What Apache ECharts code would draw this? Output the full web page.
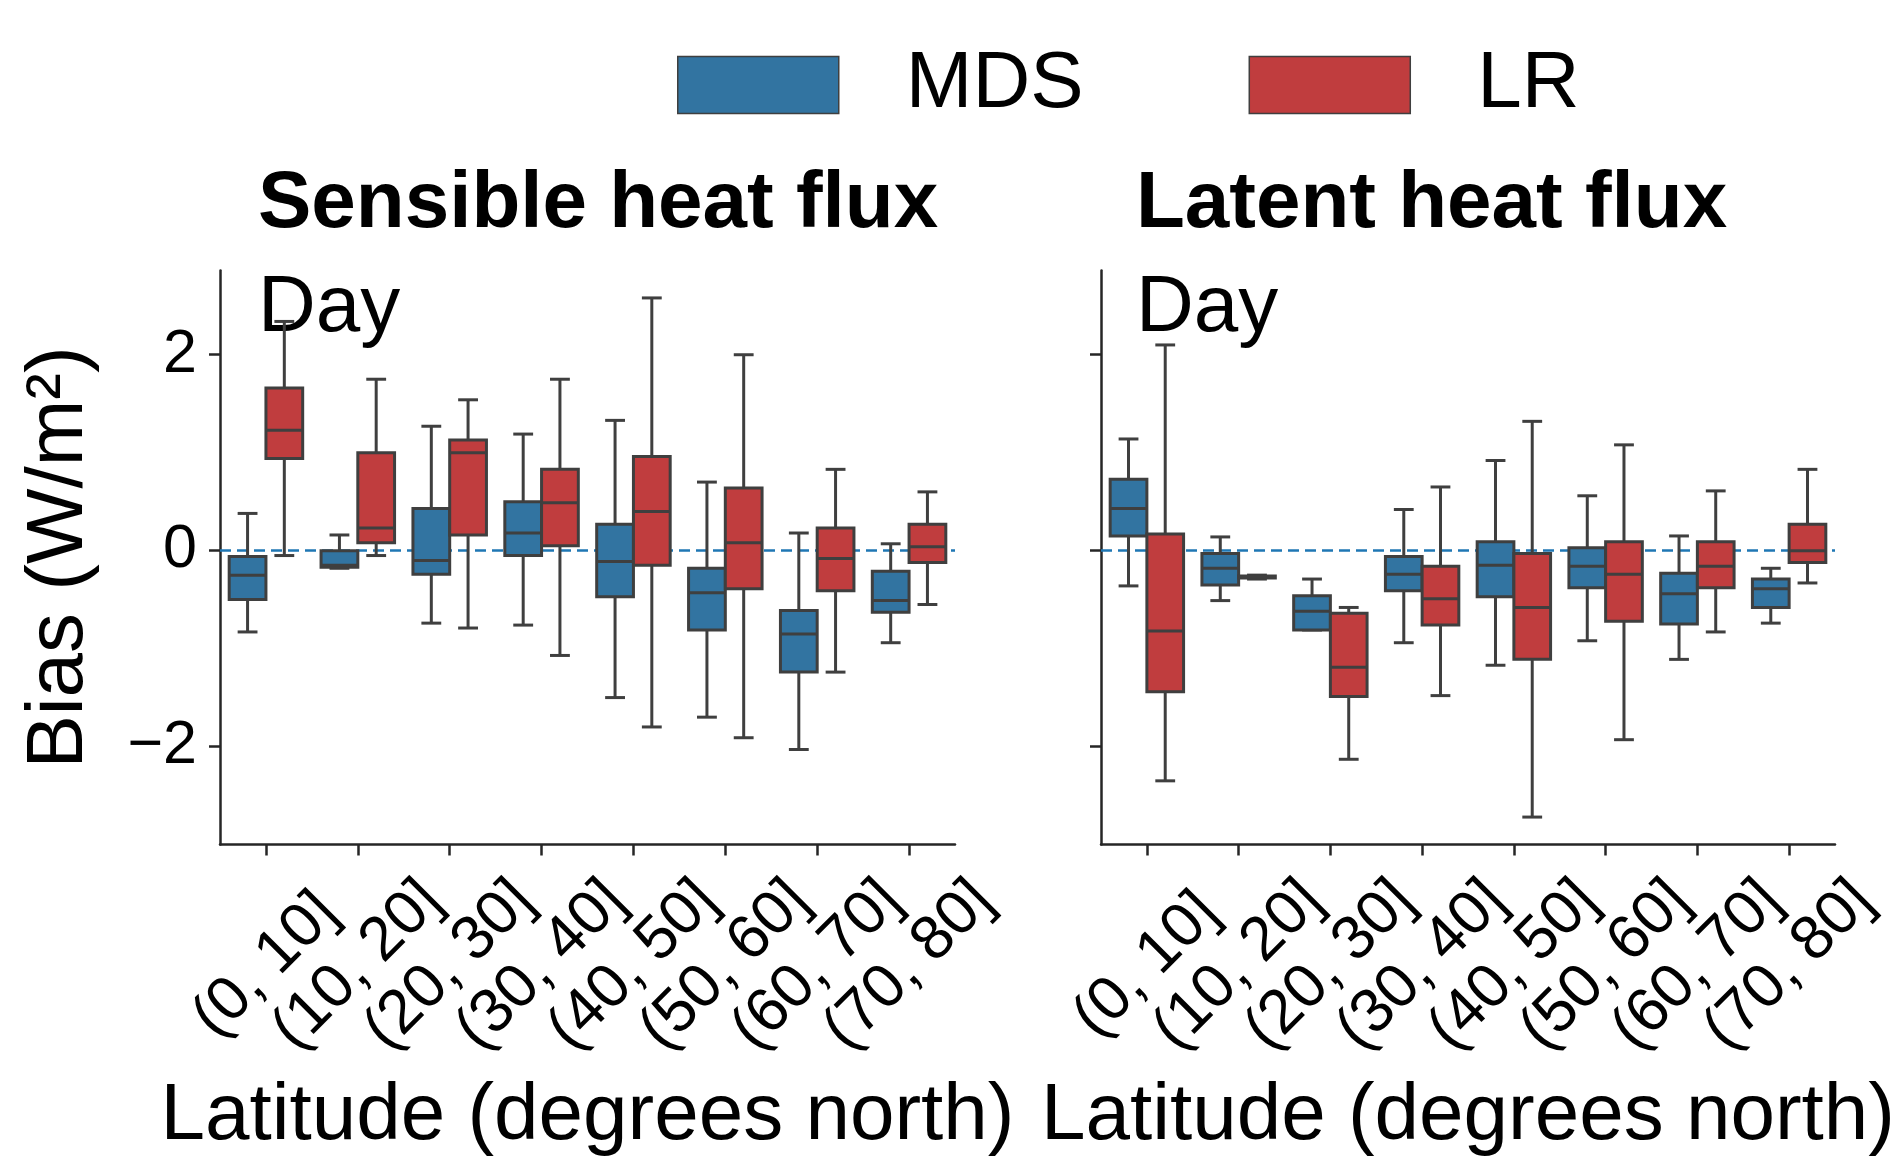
<!DOCTYPE html>
<html>
<head>
<meta charset="utf-8">
<script src="https://cdn.jsdelivr.net/npm/echarts@6/dist/echarts.min.js"></script>
<style>
html,body{margin:0;padding:0;background:#fff;}
#chart{width:1902px;height:1161px;}
</style>
</head>
<body>
<div id="chart"></div>
<script>
// ---- data (each box: [lower whisker, Q1, median, Q3, upper whisker]) ----
const latCats = ['(0, 10]', '(10, 20]', '(20, 30]', '(30, 40]', '(40, 50]', '(50, 60]', '(60, 70]', '(70, 80]'];
const panelTitles = ['Sensible heat flux', 'Latent heat flux'];
const seriesNames = ['MDS', 'LR'];
const yTickValues = [-2, 0, 2];
const yTickLabels = ['\u22122', '0', '2'];

const sensibleMDS = [
  [-0.83, -0.50, -0.25, -0.06, 0.38],
  [-0.18, -0.17, -0.15, 0.00, 0.16],
  [-0.74, -0.24, -0.10, 0.43, 1.27],
  [-0.76, -0.05, 0.18, 0.50, 1.19],
  [-1.50, -0.47, -0.11, 0.27, 1.33],
  [-1.70, -0.81, -0.43, -0.18, 0.70],
  [-2.03, -1.24, -0.85, -0.61, 0.18],
  [-0.94, -0.63, -0.51, -0.21, 0.07]
];
const sensibleLR = [
  [-0.05, 0.94, 1.23, 1.66, 2.34],
  [-0.05, 0.08, 0.23, 1.00, 1.75],
  [-0.79, 0.16, 1.00, 1.13, 1.54],
  [-1.07, 0.05, 0.49, 0.83, 1.75],
  [-1.80, -0.15, 0.40, 0.96, 2.58],
  [-1.91, -0.39, 0.08, 0.64, 2.00],
  [-1.24, -0.41, -0.08, 0.23, 0.83],
  [-0.55, -0.12, 0.04, 0.27, 0.60]
];
const latentMDS = [
  [-0.36, 0.15, 0.43, 0.73, 1.14],
  [-0.51, -0.35, -0.18, -0.03, 0.14],
  [-0.81, -0.81, -0.62, -0.46, -0.29],
  [-0.94, -0.41, -0.24, -0.06, 0.42],
  [-1.17, -0.47, -0.15, 0.09, 0.92],
  [-0.92, -0.38, -0.16, 0.03, 0.56],
  [-1.11, -0.75, -0.44, -0.23, 0.15],
  [-0.74, -0.58, -0.39, -0.29, -0.18]
];
const latentLR = [
  [-2.35, -1.44, -0.82, 0.17, 2.10],
  [-0.29, -0.28, -0.27, -0.26, -0.25],
  [-2.13, -1.49, -1.19, -0.64, -0.58],
  [-1.48, -0.76, -0.49, -0.16, 0.65],
  [-2.72, -1.11, -0.58, -0.03, 1.32],
  [-1.93, -0.72, -0.24, 0.09, 1.08],
  [-0.83, -0.38, -0.16, 0.09, 0.61],
  [-0.33, -0.12, 0.00, 0.27, 0.83]
];

// ---- styling ----
const FONT = "'Liberation Sans', Arial, Helvetica, sans-serif";
const colors = { MDS: '#3274a1', LR: '#c03d3e' };
const edge = '#3f3f3f';
const axisColor = '#262626';
const LW = 3;

const grids = [
  { left: 220, top: 270.5, width: 735, height: 574 },
  { left: 1101, top: 270.5, width: 734, height: 574 }
];

function makeRender(sign, fill) {
  return function (params, api) {
    const idx = api.value(0);
    const band = api.size([1, 0])[0];
    const bw = band * 0.4;
    const cx = api.coord([idx, 0])[0] + sign * bw / 2;
    const yLow = api.coord([idx, api.value(1)])[1];
    const yQ1 = api.coord([idx, api.value(2)])[1];
    const yMed = api.coord([idx, api.value(3)])[1];
    const yQ3 = api.coord([idx, api.value(4)])[1];
    const yHigh = api.coord([idx, api.value(5)])[1];
    const cap = bw * 0.27;
    const ls = { stroke: edge, lineWidth: LW, fill: null };
    return {
      type: 'group',
      children: [
        { type: 'line', shape: { x1: cx, y1: yQ3, x2: cx, y2: yHigh }, style: ls },
        { type: 'line', shape: { x1: cx, y1: yQ1, x2: cx, y2: yLow }, style: ls },
        { type: 'line', shape: { x1: cx - cap, y1: yHigh, x2: cx + cap, y2: yHigh }, style: ls },
        { type: 'line', shape: { x1: cx - cap, y1: yLow, x2: cx + cap, y2: yLow }, style: ls },
        { type: 'rect', shape: { x: cx - bw / 2, y: yQ3, width: bw, height: yQ1 - yQ3 },
          style: { fill: fill, stroke: edge, lineWidth: LW } },
        { type: 'line', shape: { x1: cx - bw / 2, y1: yMed, x2: cx + bw / 2, y2: yMed }, style: ls }
      ]
    };
  };
}

function toData(arr) { return arr.map((b, i) => [i].concat(b)); }

const panelData = [
  [sensibleMDS, sensibleLR],
  [latentMDS, latentLR]
];

const xAxes = [], yAxes = [], series = [];
panelData.forEach((pd, g) => {
  xAxes.push({
    type: 'category', gridIndex: g, data: latCats, boundaryGap: true,
    name: 'Latitude (degrees north)', nameLocation: 'middle', nameGap: 232,
    nameTextStyle: { fontSize: 80, fontFamily: FONT, color: '#000' },
    axisLine: { show: true, onZero: false, lineStyle: { color: axisColor, width: 2.5 } },
    axisTick: { show: true, alignWithLabel: true, length: 11, lineStyle: { color: axisColor, width: 2.5 } },
    axisLabel: { interval: 0, rotate: 45, align: 'center', verticalAlign: 'middle', margin: 121,
      fontSize: 62, fontFamily: FONT, color: '#000' },
    splitLine: { show: false }
  });
  yAxes.push({
    type: 'value', gridIndex: g, min: -3, max: 2.86,
    name: g === 0 ? 'Bias (W/m\u00b2)' : '', nameLocation: 'middle', nameGap: 120,
    nameTextStyle: { fontSize: 80, fontFamily: FONT, color: '#000' },
    axisLine: { show: true, onZero: false, lineStyle: { color: axisColor, width: 2.5 } },
    axisTick: { show: true, length: 11, customValues: yTickValues, lineStyle: { color: axisColor, width: 2.5 } },
    axisLabel: { show: g === 0, customValues: yTickValues, margin: 23, fontSize: 61, fontFamily: FONT, color: '#000',
      formatter: v => yTickLabels[yTickValues.indexOf(v)] },
    splitLine: { show: false }
  });
  pd.forEach((arr, s) => {
    const name = seriesNames[s];
    const ser = {
      type: 'custom', name: name, xAxisIndex: g, yAxisIndex: g, z: 3,
      itemStyle: { color: colors[name] },
      encode: { x: 0, y: [1, 2, 3, 4, 5] },
      renderItem: makeRender(s === 0 ? -1 : 1, colors[name]),
      data: toData(arr)
    };
    if (s === 0) {
      ser.markLine = {
        silent: true, symbol: 'none', z: 1,
        label: { show: false },
        lineStyle: { color: '#1f77b4', type: [11, 6], width: 2.5 },
        data: [{ yAxis: 0 }]
      };
    }
    series.push(ser);
  });
});

const chart = echarts.init(document.getElementById('chart'), null, { renderer: 'canvas' });
chart.setOption({
  animation: false,
  backgroundColor: '#fff',
  grid: grids,
  xAxis: xAxes,
  yAxis: yAxes,
  title: [
    { text: panelTitles[0], left: 258, top: 165, padding: 0,
      textStyle: { fontSize: 80, fontWeight: 'bold', fontFamily: FONT, color: '#000' } },
    { text: panelTitles[1], left: 1136, top: 165, padding: 0,
      textStyle: { fontSize: 80, fontWeight: 'bold', fontFamily: FONT, color: '#000' } }
  ],
  legend: {
    left: 677, top: 45, padding: 0, itemGap: 165,
    itemWidth: 161, itemHeight: 57, icon: 'rect',
    textStyle: { fontSize: 80, fontFamily: FONT, color: '#000', padding: [0, 0, 0, 62], lineHeight: 57 },
    data: seriesNames.map(n => ({ name: n, itemStyle: { color: colors[n], borderColor: edge, borderWidth: 1.5 } }))
  },
  graphic: [
    { type: 'text', x: 258, y: 309, silent: true,
      style: { text: 'Day', fontSize: 80, fontFamily: FONT, fill: '#000', verticalAlign: 'middle' } },
    { type: 'text', x: 1136, y: 309, silent: true,
      style: { text: 'Day', fontSize: 80, fontFamily: FONT, fill: '#000', verticalAlign: 'middle' } }
  ],
  series: series
});
</script>
</body>
</html>
